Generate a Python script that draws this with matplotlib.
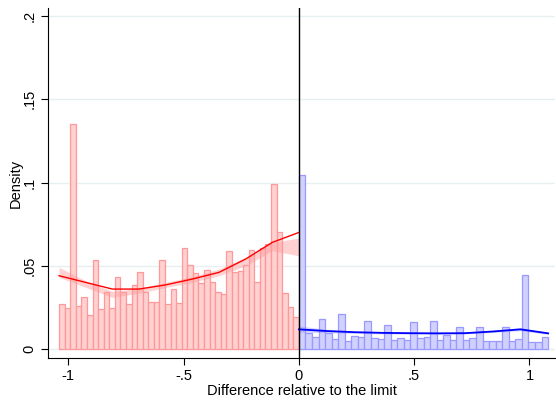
import numpy as np
import matplotlib
matplotlib.use("Agg")
import matplotlib.pyplot as plt

plt.rcParams['font.family'] = ['Liberation Sans', 'DejaVu Sans']

# histogram densities, left of the limit (43 bins) and right (38 bins)
red_density = [0.027, 0.0244, 0.135, 0.0258, 0.031, 0.0202, 0.0534, 0.0238, 0.0344, 0.0244,
               0.0434, 0.034, 0.0268, 0.0382, 0.046, 0.034, 0.0282, 0.0282, 0.0534, 0.0268,
               0.0362, 0.0274, 0.0604, 0.0504, 0.0454, 0.0398, 0.0472, 0.040, 0.034, 0.033,
               0.0586, 0.046, 0.047, 0.0504, 0.0594, 0.040, 0.0604, 0.0628, 0.099, 0.0704,
               0.0334, 0.0254, 0.0194]
blue_density = [0.1044, 0.0094, 0.0074, 0.0178, 0.0094, 0.0058, 0.0208, 0.0046, 0.0078, 0.007,
                0.0168, 0.0066, 0.006, 0.0144, 0.0052, 0.0066, 0.0056, 0.0162, 0.0064, 0.0074,
                0.0166, 0.0054, 0.0082, 0.0054, 0.0132, 0.0054, 0.0068, 0.013, 0.0048, 0.0048,
                0.0048, 0.013, 0.0048, 0.0058, 0.0444, 0.0042, 0.0042, 0.007]
red_edges = np.linspace(-1.04, 0, len(red_density) + 1)
blue_edges = np.linspace(0, 1.081, len(blue_density) + 1)

# local polynomial fits with confidence bands
red_grid = np.linspace(-1.04, 0, 10)
red_fit = [0.044, 0.040, 0.036, 0.036, 0.0385, 0.042, 0.046, 0.054, 0.064, 0.070]
red_lo = [0.043, 0.037, 0.031, 0.0335, 0.037, 0.040, 0.044, 0.050, 0.059, 0.056]
red_hi = [0.049, 0.041, 0.0345, 0.0365, 0.040, 0.0435, 0.048, 0.055, 0.064, 0.0666]

blue_grid = np.linspace(0, 1.081, 10)
blue_fit = [0.0118, 0.0108, 0.0101, 0.0097, 0.0095, 0.0094, 0.0095, 0.0105, 0.0118, 0.0094]
blue_lo = [0.0102, 0.0098, 0.0094, 0.0091, 0.0090, 0.0089, 0.0091, 0.0100, 0.0110, 0.0088]
blue_hi = [0.0138, 0.0118, 0.0106, 0.0101, 0.0099, 0.0099, 0.0101, 0.0112, 0.0128, 0.0100]

xticks = [-1, -0.5, 0, 0.5, 1]
xticklabels = ['-1', '-.5', '0', '.5', '1']
yticks = [0, 0.05, 0.1, 0.15, 0.2]
yticklabels = ['0', '.05', '.1', '.15', '.2']

fig = plt.figure(figsize=(5.56, 4.03), dpi=100)
ax = fig.add_axes([0.0863, 0.1117, 0.912, 0.868])

ax.bar(red_edges[:-1], red_density, width=np.diff(red_edges), align='edge',
       color=(1, 0.8, 0.8, 0.9), edgecolor=(1, 0.6, 0.6), linewidth=0.9, zorder=2)
ax.bar(blue_edges[:-1], blue_density, width=np.diff(blue_edges), align='edge',
       color=(0.8, 0.8, 1, 0.9), edgecolor=(0.6, 0.6, 1), linewidth=0.9, zorder=2)

ax.fill_between(red_grid, red_lo, red_hi, color=(1, 0.6, 0.6), alpha=0.45, lw=0, zorder=3)
ax.plot(red_grid, red_fit, color='red', lw=1.0, zorder=4)
ax.fill_between(blue_grid, blue_lo, blue_hi, color=(0.55, 0.55, 1), alpha=0.4, lw=0, zorder=3)
ax.plot(blue_grid, blue_fit, color='blue', lw=1.3, zorder=4)

ax.axvline(0, color='black', lw=1.0, zorder=5)

ax.set_xlim(-1.088, 1.111)
ax.set_ylim(-0.0054, 0.2047)
ax.set_xticks(xticks)
ax.set_xticklabels(xticklabels, fontsize=10.5)
ax.set_yticks(yticks)
ax.set_yticklabels(yticklabels, fontsize=10.5, rotation=90, va='center')
ax.yaxis.grid(True, color='#e8eff1', lw=1.0, zorder=0)
ax.set_axisbelow(True)
for s in ['top', 'right']:
    ax.spines[s].set_visible(False)
ax.spines['left'].set_linewidth(0.8)
ax.spines['bottom'].set_linewidth(0.8)
ax.tick_params(length=5, width=0.8, pad=3)
ax.set_xlabel('Difference relative to the limit', fontsize=10.5, labelpad=1)
ax.set_ylabel('Density', fontsize=10.5, labelpad=0)

fig.savefig('out.png', dpi=100)
